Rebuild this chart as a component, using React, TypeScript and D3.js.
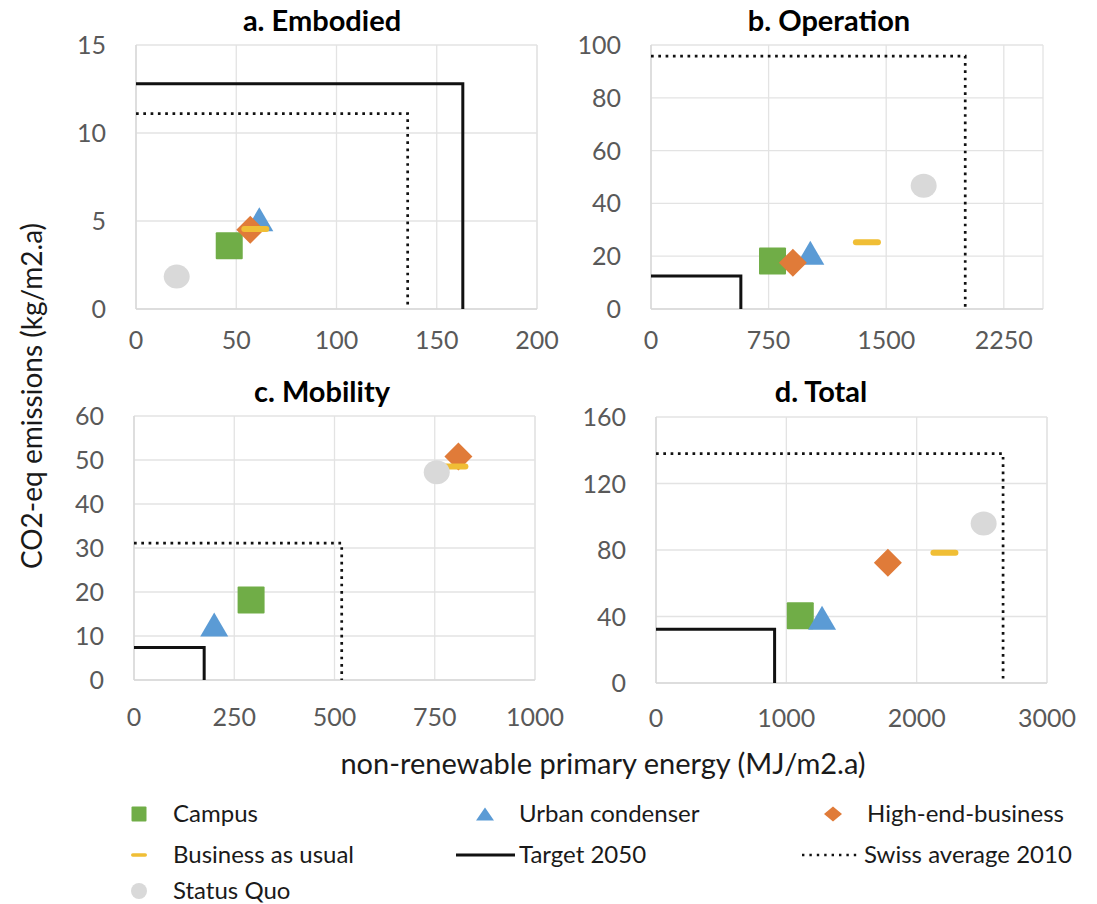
import React from "react";
import * as d3 from "d3";

const panelTitles = ["a. Embodied", "b. Operation", "c. Mobility", "d. Total"];
const xMaxes = [200, 2500, 1000, 3000];
const xSteps = [50, 750, 250, 1000];
const yMaxes = [15, 100, 60, 160];
const ySteps = [5, 20, 10, 40];

// [x, y] per panel (a, b, c, d)
const campus = [[46.5, 3.6], [775, 18.2], [292, 18.2], [1107, 40.4]];
const urbanCondenser = [[61.5, 5.1], [1016, 21.3], [200, 12.6], [1274, 39.2]];
const highEndBusiness = [[57, 4.5], [905, 17.5], [809, 50.8], [1779, 72.4]];
const businessAsUsual = [[59.5, 4.55], [1377, 25.3], [799, 48.5], [2213, 78.4]];
const statusQuo = [[20.3, 1.84], [1739, 46.7], [755, 47.2], [2514, 96]];
const target2050 = [[163, 12.8], [573, 12.5], [175, 7.4], [910, 32.4]];
const swissAverage2010 = [[135.5, 11.1], [2004, 95.8], [518, 31.1], [2663, 138]];

const legendLabels = [
  "Campus", "Urban condenser", "High-end-business",
  "Business as usual", "Target 2050", "Swiss average 2010", "Status Quo",
];

const COLORS = {
  campus: "#70AD47",
  urban: "#5B9BD5",
  high: "#E07B39",
  bau: "#F0BE35",
  sq: "#D9D9D9",
};

const FONT = "Lato, 'Open Sans', sans-serif";

// plot-area frames [left, top, right, bottom]
const frames = [
  [136, 45, 537, 309],
  [651, 45, 1043, 309],
  [134, 416, 535, 680],
  [656, 417, 1047, 683],
];
const titleCenters = [[322, 31], [829, 31], [322, 402], [821, 402]];
const xLabelOffsets = [40, 40, 46, 44];

function Square({ x, y, s, color }) {
  return <rect x={x - s / 2} y={y - s / 2} width={s} height={s} fill={color} rx={1} />;
}
function Triangle({ x, y, w, h, color }) {
  return <path d={`M${x},${y - h / 2}L${x + w / 2},${y + h / 2}L${x - w / 2},${y + h / 2}Z`} fill={color} />;
}
function Diamond({ x, y, s, color, h }) {
  const hh = h ?? s;
  return <path d={`M${x},${y - hh / 2}L${x + s / 2},${y}L${x},${y + hh / 2}L${x - s / 2},${y}Z`} fill={color} />;
}
function Dash({ x, y, w, h, color }) {
  return <rect x={x - w / 2} y={y - h / 2} width={w} height={h} rx={h / 2} fill={color} />;
}

function Panel({ i }) {
  const [l, t, r, b] = frames[i];
  const x = d3.scaleLinear().domain([0, xMaxes[i]]).range([l, r]);
  const y = d3.scaleLinear().domain([0, yMaxes[i]]).range([b, t]);
  const xt = d3.range(0, xMaxes[i] + 1e-9, xSteps[i]);
  const yt = d3.range(0, yMaxes[i] + 1e-9, ySteps[i]);
  const elbow = (p) =>
    d3.line()([[x(0), y(p[1])], [x(p[0]), y(p[1])], [x(p[0]), y(0)]]);
  return (
    <g>
      {yt.map((v) => (
        <line key={"gy" + v} x1={l} x2={r} y1={y(v)} y2={y(v)} stroke="#E3E3E3" strokeWidth={1.3} />
      ))}
      {xt.map((v) => (
        <line key={"gx" + v} x1={x(v)} x2={x(v)} y1={t} y2={b} stroke="#E3E3E3" strokeWidth={1.3} />
      ))}
      <line x1={r} x2={r} y1={t} y2={b} stroke="#E3E3E3" strokeWidth={1.3} />
      <line x1={l} x2={l} y1={t} y2={b} stroke="#D9D9D9" strokeWidth={1.5} />
      <line x1={l} x2={r} y1={b} y2={b} stroke="#D9D9D9" strokeWidth={1.5} />
      {yt.map((v) => (
        <text key={"ty" + v} x={l - 30} y={y(v) + 9} textAnchor="end" fontSize={25} fill="#595959" fontFamily={FONT}>
          {v}
        </text>
      ))}
      {xt.map((v) => (
        <text key={"tx" + v} x={x(v)} y={b + xLabelOffsets[i]} textAnchor="middle" fontSize={25} fill="#595959" fontFamily={FONT}>
          {v}
        </text>
      ))}
      <text x={titleCenters[i][0]} y={titleCenters[i][1]} textAnchor="middle" fontSize={29} fontWeight="bold" fill="#000" fontFamily={FONT}>
        {panelTitles[i]}
      </text>
      <path d={elbow(target2050[i])} fill="none" stroke="#111" strokeWidth={3} />
      <path d={elbow(swissAverage2010[i])} fill="none" stroke="#111" strokeWidth={2.7} strokeDasharray="2.7 4.6" />
      <Square x={x(campus[i][0])} y={y(campus[i][1])} s={27} color={COLORS.campus} />
      <Triangle x={x(urbanCondenser[i][0])} y={y(urbanCondenser[i][1])} w={28} h={24} color={COLORS.urban} />
      <Diamond x={x(highEndBusiness[i][0])} y={y(highEndBusiness[i][1])} s={28} color={COLORS.high} />
      <Dash x={x(businessAsUsual[i][0])} y={y(businessAsUsual[i][1])} w={28} h={6} color={COLORS.bau} />
      <ellipse cx={x(statusQuo[i][0])} cy={y(statusQuo[i][1])} rx={13} ry={12} fill={COLORS.sq} />
    </g>
  );
}

function Legend() {
  const cols = [139, 485, 833];
  const rows = [814, 855, 891];
  const textOff = 34;
  const items = [
    { c: 0, r: 0, mark: <Square x={cols[0]} y={rows[0]} s={15} color={COLORS.campus} /> },
    { c: 1, r: 0, mark: <Triangle x={cols[1]} y={rows[0]} w={18} h={13} color={COLORS.urban} /> },
    { c: 2, r: 0, mark: <Diamond x={cols[2]} y={rows[0]} s={18} h={15} color={COLORS.high} /> },
    { c: 0, r: 1, mark: <Dash x={cols[0]} y={rows[1]} w={16} h={3.5} color={COLORS.bau} /> },
    { c: 1, r: 1, mark: <line x1={456} x2={515} y1={rows[1]} y2={rows[1]} stroke="#111" strokeWidth={3.2} /> },
    { c: 2, r: 1, mark: <line x1={802} x2={860} y1={rows[1]} y2={rows[1]} stroke="#111" strokeWidth={2.4} strokeDasharray="2.4 5" /> },
    { c: 0, r: 2, mark: <circle cx={cols[0]} cy={rows[2]} r={8} fill={COLORS.sq} /> },
  ];
  const textX = (it) => (it.c === 1 && it.r === 1 ? 519 : it.c === 2 && it.r === 1 ? 864 : cols[it.c] + textOff);
  return (
    <g>
      {items.map((it, k) => (
        <g key={k}>
          {it.mark}
          <text x={textX(it)} y={rows[it.r] + 7.5} fontSize={24} fill="#1a1a1a" fontFamily={FONT}>
            {legendLabels[k]}
          </text>
        </g>
      ))}
    </g>
  );
}

export default function App() {
  return (
    <svg width={1097} height={904} style={{ position: "absolute", left: 0, top: 0, background: "#fff" }}>
      <rect width={1097} height={904} fill="#fff" />
      {[0, 1, 2, 3].map((i) => (
        <Panel key={i} i={i} />
      ))}
      <text transform="translate(42,396) rotate(-90)" textAnchor="middle" fontSize={28} fill="#1a1a1a" fontFamily={FONT}>
        CO2-eq emissions (kg/m2.a)
      </text>
      <text x={603} y={774} textAnchor="middle" fontSize={29} fill="#1a1a1a" fontFamily={FONT}>
        non-renewable primary energy (MJ/m2.a)
      </text>
      <Legend />
    </svg>
  );
}
